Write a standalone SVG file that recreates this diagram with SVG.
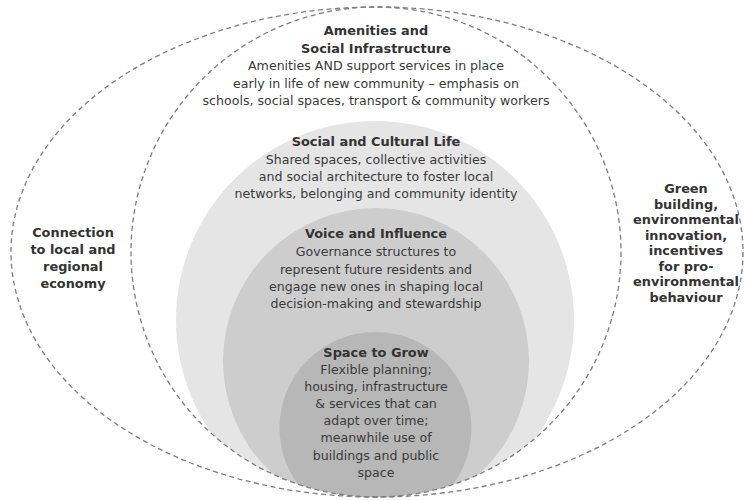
<svg xmlns="http://www.w3.org/2000/svg" width="745" height="500" viewBox="0 0 745 500">
  <style>
    .ring { fill: none; stroke: #7d7d7d; stroke-width: 1.3; stroke-dasharray: 5 3.5; }
    .head { font-family: "DejaVu Sans", Verdana, sans-serif; font-weight: bold; font-size: 12.9px; fill: #333333; text-anchor: middle; }
    .body { font-family: "DejaVu Sans", Verdana, sans-serif; font-size: 12.6px; fill: #3a3a3a; text-anchor: middle; }
  </style>
  <defs>
    <clipPath id="innerClip">
      <ellipse cx="376" cy="252" rx="245" ry="245"/>
    </clipPath>
  </defs>
  <rect width="745" height="500" fill="#ffffff"/>

  <!-- nested filled layers, clipped to the inner ring -->
  <g clip-path="url(#innerClip)">
    <g id="social-cultural-life-disc"><circle cx="375" cy="320" r="199" fill="#e5e5e5"/></g>
    <g id="voice-influence-disc"><circle cx="376" cy="361" r="153" fill="#cdcdcd"/></g>
    <g id="space-to-grow-disc"><circle cx="375.5" cy="428" r="96" fill="#b7b7b7"/></g>
  </g>

  <!-- dashed boundary rings -->
  <g id="connectors">
    <ellipse class="ring" cx="377" cy="252" rx="366" ry="245"/>
    <ellipse class="ring" cx="376" cy="252" rx="245" ry="245"/>
  </g>

  <g id="amenities">
    <text class="head" x="376" y="35">Amenities and</text>
    <text class="head" x="376" y="52.5">Social Infrastructure</text>
    <text class="body" x="376" y="70">Amenities AND support services in place</text>
    <text class="body" x="376" y="87.5">early in life of new community – emphasis on</text>
    <text class="body" x="376" y="105">schools, social spaces, transport &amp; community workers</text>
  </g>

  <g id="social-cultural-life">
    <text class="head" x="376" y="146">Social and Cultural Life</text>
    <text class="body" x="376" y="163.5">Shared spaces, collective activities</text>
    <text class="body" x="376" y="181">and social architecture to foster local</text>
    <text class="body" x="376" y="198">networks, belonging and community identity</text>
  </g>

  <g id="voice-influence">
    <text class="head" x="376" y="238">Voice and Influence</text>
    <text class="body" x="376" y="256">Governance structures to</text>
    <text class="body" x="376" y="273.5">represent future residents and</text>
    <text class="body" x="376" y="291">engage new ones in shaping local</text>
    <text class="body" x="376" y="308">decision-making and stewardship</text>
  </g>

  <g id="space-to-grow">
    <text class="head" x="376" y="357">Space to Grow</text>
    <text class="body" x="376" y="373.5">Flexible planning;</text>
    <text class="body" x="376" y="391">housing, infrastructure</text>
    <text class="body" x="376" y="408">&amp; services that can</text>
    <text class="body" x="376" y="425">adapt over time;</text>
    <text class="body" x="376" y="442">meanwhile use of</text>
    <text class="body" x="376" y="460">buildings and public</text>
    <text class="body" x="376" y="477">space</text>
  </g>

  <g id="local-economy">
    <text class="head" x="73" y="237">Connection</text>
    <text class="head" x="73" y="254">to local and</text>
    <text class="head" x="73" y="271">regional</text>
    <text class="head" x="73" y="288">economy</text>
  </g>

  <g id="green-building">
    <text class="head" x="686" y="193">Green</text>
    <text class="head" x="686" y="208.5">building,</text>
    <text class="head" x="686" y="224">environmental</text>
    <text class="head" x="686" y="239.5">innovation,</text>
    <text class="head" x="686" y="255">incentives</text>
    <text class="head" x="686" y="270.5">for pro-</text>
    <text class="head" x="686" y="286">environmental</text>
    <text class="head" x="686" y="301.5">behaviour</text>
  </g>
</svg>
